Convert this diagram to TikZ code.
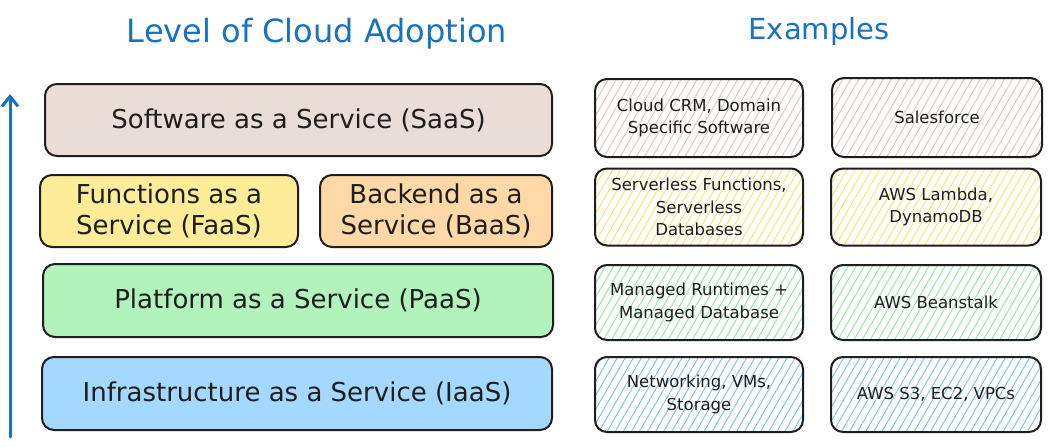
\documentclass[tikz,border=0pt]{standalone}
\usepackage{fontspec}
\setmainfont{DejaVu Sans}
\usetikzlibrary{patterns.meta,arrows.meta}
\definecolor{ink}{HTML}{1E1E1E}
\definecolor{ttl}{HTML}{1971C2}
\definecolor{saas}{HTML}{EADDD7}
\definecolor{faas}{HTML}{FFEC99}
\definecolor{baas}{HTML}{FFD8A8}
\definecolor{paas}{HTML}{B2F2BB}
\definecolor{iaas}{HTML}{A5D8FF}
\definecolor{hsaas}{HTML}{DCC6BD}
\definecolor{hfaas}{HTML}{FFE066}
\definecolor{hpaas}{HTML}{8CE99A}
\definecolor{hiaas}{HTML}{74C0FC}
\tikzset{
  x=1pt,y=-1pt,
  layer/.style={draw=ink, line width=2pt, rounded corners=12pt, align=center,
    inner sep=0pt, font=\fontsize{26}{31}\selectfont, text=ink},
  ex/.style={draw=ink, line width=2pt, rounded corners=12pt, align=center,
    inner sep=0pt, font=\fontsize{16.5}{22.5}\selectfont, text=ink,
    minimum width=#1},
  hatch/.style={pattern={Lines[angle=60,distance=7pt,line width=0.9pt]}, pattern color=#1},
  ttlstyle/.style={text=ttl, font=\fontsize{#1}{36}\selectfont},
}
\begin{document}
\begin{tikzpicture}
\useasboundingbox (0,0) rectangle (1050,447);
\fill[white] (0,0) rectangle (1050,447);

\node[ttlstyle=32] (title) at (317,34) {Level of Cloud Adoption};
\node[ttlstyle=29] (extitle) at (819,31) {Examples};

% left layers
\node[layer, fill=saas, minimum width=507pt, minimum height=72pt] (saasb) at (298.5,120) {Software as a Service (SaaS)};
\node[layer, fill=faas, minimum width=258pt, minimum height=72pt] (faasb) at (169,211) {Functions as a\\Service (FaaS)};
\node[layer, fill=baas, minimum width=232pt, minimum height=72pt] (baasb) at (436,211) {Backend as a\\Service (BaaS)};
\node[layer, fill=paas, minimum width=510pt, minimum height=73pt] (paasb) at (298,300.5) {Platform as a Service (PaaS)};
\node[layer, fill=iaas, minimum width=510pt, minimum height=73pt] (iaasb) at (297,393.5) {Infrastructure as a Service (IaaS)};

% examples column 1
\node[ex=208pt, hatch=hsaas, minimum height=78pt] (e1a) at (699,118) {Cloud CRM, Domain\\Specific Software};
\node[ex=208pt, hatch=hfaas, minimum height=77pt] (e2a) at (699,207) {Serverless Functions,\\Serverless\\Databases};
\node[ex=208pt, hatch=hpaas, minimum height=75pt] (e3a) at (699,302.5) {Managed Runtimes +\\Managed Database};
\node[ex=208pt, hatch=hiaas, minimum height=75pt] (e4a) at (699,394.5) {Networking, VMs,\\Storage};

% examples column 2
\node[ex=210pt, hatch=hsaas, minimum height=79pt] (e1b) at (937,117.5) {Salesforce};
\node[ex=210pt, hatch=hfaas, minimum height=77pt] (e2b) at (936,207) {AWS Lambda,\\DynamoDB};
\node[ex=210pt, hatch=hpaas, minimum height=75pt] (e3b) at (936,302.5) {AWS Beanstalk};
\node[ex=210pt, hatch=hiaas, minimum height=75pt] (e4b) at (936,394.5) {AWS S3, EC2, VPCs};

% arrow
\coordinate (abot) at (10,437);
\coordinate (atop) at (10,94);
\draw[ttl, line width=3pt, line cap=round, -{Straight Barb[length=10pt,width=16pt,line width=3pt]}] (abot) -- (atop);
\end{tikzpicture}
\end{document}
